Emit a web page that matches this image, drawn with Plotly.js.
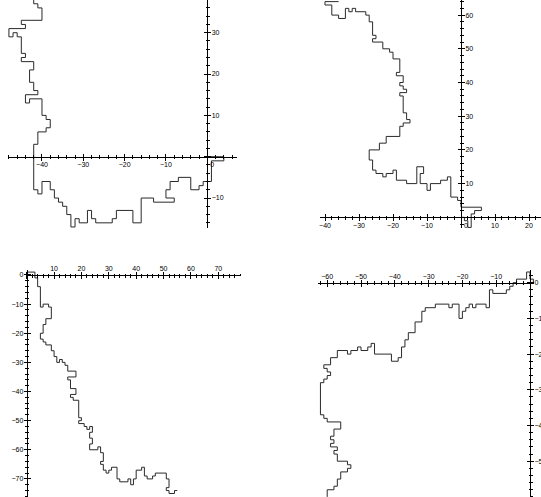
<!DOCTYPE html>
<html>
<head>
<meta charset="utf-8">
<script src="https://cdn.plot.ly/plotly-3.0.1.min.js"></script>
<style>html,body{margin:0;padding:0;background:#fff;}#chart{width:541px;height:497px;}</style>
</head>
<body>
<div id="chart"></div>
<script>
// ---- data: lattice random walks (vertices of each path) ----
const walk1X = [0,4,4,1,1,-1,-1,-2,-2,-4,-4,-7,-7,-9,-9,-10,-10,-8,-8,-13,-13,-16,-16,-18,-18,-22,-22,-23,-23,-27,-27,-28,-28,-29,-29,-31,-31,-32,-32,-33,-33,-34,-34,-35,-35,-36,-36,-37,-37,-38,-38,-40,-40,-41,-41,-42,-42,-41,-41,-39,-39,-38,-38,-39,-39,-40,-40,-43,-43,-44,-44,-41,-41,-42,-42,-43,-43,-42,-42,-45,-45,-44,-44,-45,-45,-46,-46,-47,-47,-48,-48,-44,-44,-45,-45,-40,-40,-41,-41,-42,-42];
const walk1Y = [0,0,-1,-1,-6,-6,-7,-7,-8,-8,-5,-5,-6,-6,-8,-8,-10,-10,-11,-11,-10,-10,-16,-16,-13,-13,-15,-15,-16,-16,-15,-15,-13,-13,-16,-16,-15,-15,-17,-17,-14,-14,-12,-12,-11,-11,-10,-10,-8,-8,-6,-6,-9,-9,-8,-8,3,3,6,6,7,7,9,9,10,10,14,14,13,13,15,15,16,16,18,18,21,21,23,23,24,24,25,25,29,29,30,30,29,29,31,31,32,32,33,33,36,36,37,37,38];

const walk2X = [0,1,1,2,2,3,3,4,4,6,6,0,0,-1,-1,-3,-3,-4,-4,-6,-6,-9,-9,-10,-10,-12,-12,-11,-11,-13,-13,-16,-16,-19,-19,-20,-20,-22,-22,-23,-23,-25,-25,-26,-26,-27,-27,-24,-24,-22,-22,-18,-18,-17,-17,-15,-15,-16,-16,-17,-17,-18,-18,-16,-16,-17,-17,-18,-18,-17,-17,-19,-19,-18,-18,-20,-20,-21,-21,-23,-23,-26,-26,-25,-25,-26,-26,-27,-27,-28,-28,-31,-31,-32,-32,-33,-33,-34,-34,-36,-36,-38,-38,-40,-40,-36];
const walk2Y = [0,0,-1,-1,-3,-3,1,1,2,2,3,3,5,5,6,6,12,12,11,11,10,10,8,8,10,10,13,13,15,15,10,10,11,11,14,14,13,13,12,12,13,13,14,14,17,17,20,20,22,22,24,24,27,27,28,28,29,29,31,31,36,36,37,37,38,38,39,39,40,40,42,42,43,43,47,47,49,49,50,50,52,52,53,53,54,54,58,58,60,60,61,61,62,62,61,61,62,62,59,59,60,60,63,63,64,64];

const walk3X = [0,0,3,3,4,4,5,5,6,6,8,8,9,9,7,7,6,6,5,5,6,6,7,7,9,9,10,10,11,11,12,12,13,13,14,14,15,15,18,18,15,15,16,16,18,18,16,16,17,17,19,19,20,20,19,19,21,21,22,22,23,23,24,24,23,23,24,24,23,23,26,26,27,27,28,28,27,27,28,28,29,29,30,30,31,31,33,33,34,34,37,37,38,38,39,39,40,40,42,42,43,43,44,44,46,46,47,47,51,51,52,52,51,51,52,52,54,54,55];
const walk3Y = [0,1,1,-1,-1,-4,-4,-11,-11,-10,-10,-11,-11,-15,-15,-17,-17,-20,-20,-22,-22,-23,-23,-24,-24,-26,-26,-28,-28,-30,-30,-29,-29,-30,-30,-31,-31,-33,-33,-35,-35,-36,-36,-39,-39,-41,-41,-42,-42,-43,-43,-49,-49,-50,-50,-51,-51,-52,-52,-53,-53,-52,-52,-54,-54,-56,-56,-58,-58,-60,-60,-59,-59,-61,-61,-64,-64,-65,-65,-67,-67,-68,-68,-67,-67,-66,-66,-70,-70,-71,-71,-70,-70,-72,-72,-70,-70,-67,-67,-66,-66,-69,-69,-70,-70,-69,-69,-68,-68,-70,-70,-73,-73,-74,-74,-75,-75,-74,-74];

const walk4X = [0,1,1,0,0,-1,-1,-4,-4,-5,-5,-6,-6,-7,-7,-11,-11,-12,-12,-13,-13,-16,-16,-17,-17,-18,-18,-19,-19,-20,-20,-21,-21,-23,-23,-24,-24,-28,-28,-31,-31,-32,-32,-34,-34,-36,-36,-37,-37,-38,-38,-39,-39,-41,-41,-46,-46,-47,-47,-48,-48,-50,-50,-51,-51,-53,-53,-54,-54,-57,-57,-59,-59,-61,-61,-60,-60,-59,-59,-60,-60,-61,-61,-62,-62,-61,-61,-60,-60,-56,-56,-58,-58,-59,-59,-58,-58,-59,-59,-57,-57,-58,-58,-57,-57,-54,-54,-53,-53,-54,-54,-56,-56,-57,-57,-58,-58,-60,-60];
const walk4Y = [0,0,1,1,3,3,1,1,0,0,-1,-1,-2,-2,-3,-3,-2,-2,-7,-7,-6,-6,-7,-7,-6,-6,-7,-7,-8,-8,-10,-10,-6,-6,-7,-7,-6,-6,-7,-7,-8,-8,-11,-11,-14,-14,-16,-16,-18,-18,-21,-21,-22,-22,-20,-20,-17,-17,-18,-18,-19,-19,-18,-18,-19,-19,-20,-20,-19,-19,-21,-21,-23,-23,-24,-24,-25,-25,-26,-26,-27,-27,-28,-28,-37,-37,-38,-38,-39,-39,-41,-41,-43,-43,-44,-44,-45,-45,-46,-46,-47,-47,-48,-48,-50,-50,-51,-51,-52,-52,-53,-53,-55,-55,-57,-57,-58,-58,-60];

// ---- tick labels ----
const ticks1X = [-40,-30,-20,-10,0], labels1X = ['\u221240','\u221230','\u221220','\u221210','\u00a0\u00a0\u00a0\u00a0\u00a00'];
const ticks1Y = [-10,0,10,20,30],   labels1Y = ['\u221210','','10','20','30'];
const ticks2X = [-40,-30,-20,-10,0,10,20], labels2X = ['\u221240','\u221230','\u221220','\u221210','\u00a0\u00a0\u00a0\u00a0\u00a00','10','20'];
const ticks2Y = [0,10,20,30,40,50,60], labels2Y = ['','10','20','30','40','50','60'];
const ticks3X = [0,10,20,30,40,50,60,70], labels3X = ['','10','20','30','40','50','60','70'];
const ticks3Y = [0,-10,-20,-30,-40,-50,-60,-70], labels3Y = ['0','\u221210','\u221220','\u221230','\u221240','\u221250','\u221260','\u221270'];
const ticks4X = [-60,-50,-40,-30,-20,-10,0], labels4X = ['\u221260','\u221250','\u221240','\u221230','\u221220','\u221210',''];
const ticks4Y = [0,-10,-20,-30,-40,-50], labels4Y = ['0','\u221210','\u221220','\u221230','\u221240','\u221250'];

// ---- layout frames (pixel placement of each panel's origin and scale) ----
const W = 541, H = 497;
const frames = [
  {x0:207.3, xs:4.133, xr:[-48.3,7.2],  y0:156.7, ys:4.133, yr:[-17.3,37.9], xside:'bottom', yside:'right'},
  {x0:461,   xs:3.4,   xr:[-41.5,23.5], y0:217.3, ys:3.37,  yr:[-3.2,64.4],  xside:'bottom', yside:'right'},
  {x0:26.7,  xs:2.737, xr:[-0.4,78.2],  y0:275,   ys:2.913, yr:[-76.2,1.7],  xside:'top',    yside:'left'},
  {x0:530,   xs:3.38,  xr:[-62.6,1.3],  y0:282.7, ys:3.57,  yr:[-60,3.6],    xside:'top',    yside:'right'}
];
const walks = [[walk1X,walk1Y],[walk2X,walk2Y],[walk3X,walk3Y],[walk4X,walk4Y]];
const tickSets = [[ticks1X,labels1X,ticks1Y,labels1Y],[ticks2X,labels2X,ticks2Y,labels2Y],
                  [ticks3X,labels3X,ticks3Y,labels3Y],[ticks4X,labels4X,ticks4Y,labels4Y]];

const clamp = v => Math.max(0, Math.min(1, v));
const font = {family:'Liberation Sans, Arial, sans-serif', size:7, color:'#000'};
const traces = [];
const layout = {width:W, height:H, margin:{l:0,r:0,t:0,b:0}, showlegend:false,
  paper_bgcolor:'#fff', plot_bgcolor:'rgba(0,0,0,0)', font:font};

frames.forEach((f, i) => {
  const n = i + 1, m = i + 5;
  const xd = [clamp((f.x0 + f.xr[0]*f.xs)/W), clamp((f.x0 + f.xr[1]*f.xs)/W)];
  const yd = [clamp(1 - (f.y0 - f.yr[0]*f.ys)/H), clamp(1 - (f.y0 - f.yr[1]*f.ys)/H)];
  const xpos = clamp(1 - f.y0/H), ypos = clamp(f.x0/W);
  const [tx, lx, ty, ly] = tickSets[i];
  const common = {showgrid:false, zeroline:false, showline:true, linecolor:'#000', linewidth:1,
    ticks:'outside', ticklen:3, tickwidth:1, tickcolor:'#000', tickmode:'array', tickfont:font,
    minor:{tickmode:'linear', tick0:0, dtick:2, ticks:'outside', ticklen:1.5, tickwidth:1, tickcolor:'#000', showgrid:false},
    fixedrange:true};
  layout['xaxis'+n] = Object.assign({}, common, {domain:xd, range:f.xr, anchor:'free', position:xpos,
    side:f.xside, tickvals:tx, ticktext:lx, ticklabelstandoff:-2});
  layout['yaxis'+n] = Object.assign({}, common, {domain:yd, range:f.yr, anchor:'free', position:ypos,
    side:f.yside, tickvals:ty, ticktext:ly, ticklabelstandoff:-1});
  // overlay axes to make ticks cross the axis line
  const over = {showgrid:false, zeroline:false, showline:false, showticklabels:false,
    ticks:'inside', ticklen:3, tickwidth:1, tickcolor:'#000', tickmode:'array',
    minor:{tickmode:'linear', tick0:0, dtick:2, ticks:'inside', ticklen:1.5, tickwidth:1, tickcolor:'#000', showgrid:false},
    fixedrange:true};
  layout['xaxis'+m] = Object.assign({}, over, {overlaying:'x'+(n===1?'':n), range:f.xr, anchor:'free', position:xpos, side:f.xside, tickvals:tx});
  layout['yaxis'+m] = Object.assign({}, over, {overlaying:'y'+(n===1?'':n), range:f.yr, anchor:'free', position:ypos, side:f.yside, tickvals:ty});
  const [wx, wy] = walks[i];
  traces.push({type:'scatter', mode:'lines', x:wx, y:wy,
    xaxis:'x'+(n===1?'':n), yaxis:'y'+(n===1?'':n),
    line:{color:'#2a2a2a', width:1, shape:'linear'}, hoverinfo:'skip'});
  traces.push({type:'scatter', mode:'lines', x:[], y:[], xaxis:'x'+m, yaxis:'y'+m, hoverinfo:'skip'});
});

Plotly.newPlot('chart', traces, layout, {displayModeBar:false, staticPlot:true});
</script>
</body>
</html>
